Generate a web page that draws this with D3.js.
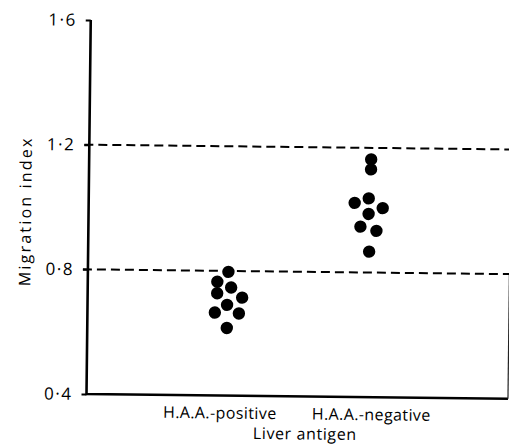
<!DOCTYPE html>
<html>
<head>
<meta charset="utf-8">
<script src="https://cdn.jsdelivr.net/npm/d3@7"></script>
<style>
  html, body { margin: 0; padding: 0; background: #fff; }
  svg { display: block; }
  text { font-family: "Open Sans", "DejaVu Sans", sans-serif; fill: #000; }
</style>
</head>
<body>
<script>
// ---- data ----
const categories = ["H.A.A.-positive", "H.A.A.-negative"];
const positiveValues = [0.797, 0.765, 0.747, 0.728, 0.715, 0.691, 0.666, 0.664, 0.617];
const positiveJitter = [0.0, -0.078, 0.021, -0.078, 0.100, -0.007, -0.093, 0.078, -0.007];
const negativeValues = [1.163, 1.131, 1.023, 1.038, 1.007, 0.988, 0.947, 0.934, 0.867];
const negativeJitter = [0.007, 0.007, -0.107, -0.007, 0.093, -0.007, -0.064, 0.050, 0.0];
const yTicks = [0.4, 0.8, 1.2, 1.6];
const yTickLabels = ["0·4", "0·8", "1·2", "1·6"];
const referenceLines = [0.8, 1.2];
const yTitle = "Migration index";
const xTitle = "Liver antigen";

// ---- layout ----
const W = 509, H = 445;
const mLeft = 86.5, mRight = 508, mTop = 20, mBottom = 394;

const svg = d3.select("body").append("svg").attr("width", W).attr("height", H);
const g = svg.append("g").attr("transform", `rotate(0.65, ${mLeft}, ${mBottom})`);

const x = d3.scaleLinear().domain([0, categories.length + 1]).range([mLeft, mRight]);
const y = d3.scaleLinear().domain([0.4, 1.6]).range([mBottom, mTop]);

const points = [];
positiveValues.forEach((v, i) => points.push({ cat: 0, v, j: positiveJitter[i] }));
negativeValues.forEach((v, i) => points.push({ cat: 1, v, j: negativeJitter[i] }));

// reference dashed lines
g.selectAll("line.ref").data(referenceLines).enter().append("line")
  .attr("class", "ref")
  .attr("x1", mLeft - 5).attr("x2", mRight)
  .attr("y1", d => y(d)).attr("y2", d => y(d))
  .attr("stroke", "#000").attr("stroke-width", 2)
  .attr("stroke-dasharray", "9,5");

// y axis
const yAxis = d3.axisLeft(y).tickValues(yTicks)
  .tickFormat((d, i) => yTickLabels[i]).tickSize(5).tickPadding(9);
const ya = g.append("g").attr("transform", `translate(${mLeft},0)`).call(yAxis);
ya.select(".domain").remove();
ya.selectAll(".tick line").attr("stroke", "#000").attr("stroke-width", 2);
ya.selectAll(".tick text")
  .style("font-size", "17px")
  .style("font-family", "'Open Sans', sans-serif")
  .style("letter-spacing", "1.5px");

// axis lines
g.append("path")
  .attr("d", `M${mLeft},${y(1.6)} L${mLeft},${y(0.4)} L${mRight},${y(0.4)}`)
  .attr("fill", "none").attr("stroke", "#000").attr("stroke-width", 2.6);
// right thin edge
g.append("line").attr("x1", mRight).attr("x2", mRight)
  .attr("y1", y(0.8) + 1).attr("y2", y(0.4))
  .attr("stroke", "#222").attr("stroke-width", 1.2);

// dots
g.selectAll("circle").data(points).enter().append("circle")
  .attr("cx", d => x(d.cat + 1 + d.j))
  .attr("cy", d => y(d.v))
  .attr("r", 6.2).attr("fill", "#000");

// category labels
g.selectAll("text.cat").data(categories).enter().append("text")
  .attr("class", "cat")
  .attr("x", (d, i) => x(i + 1) + (i === 0 ? -7 : 4))
  .attr("y", 417)
  .attr("text-anchor", "middle")
  .style("font-size", "16px")
  .style("letter-spacing", "0.4px")
  .text(d => d);

// x title
g.append("text")
  .attr("x", (x(1) + x(2)) / 2 + 8)
  .attr("y", 437)
  .attr("text-anchor", "middle")
  .style("font-size", "16px")
  .style("letter-spacing", "0.6px")
  .text(xTitle);

// y title
g.append("text")
  .attr("transform", `translate(29, ${(y(0.4) + y(1.6)) / 2 + 5}) rotate(-90)`)
  .attr("text-anchor", "middle")
  .style("font-size", "16px")
  .style("letter-spacing", "2.2px")
  .text(yTitle);
</script>
</body>
</html>
